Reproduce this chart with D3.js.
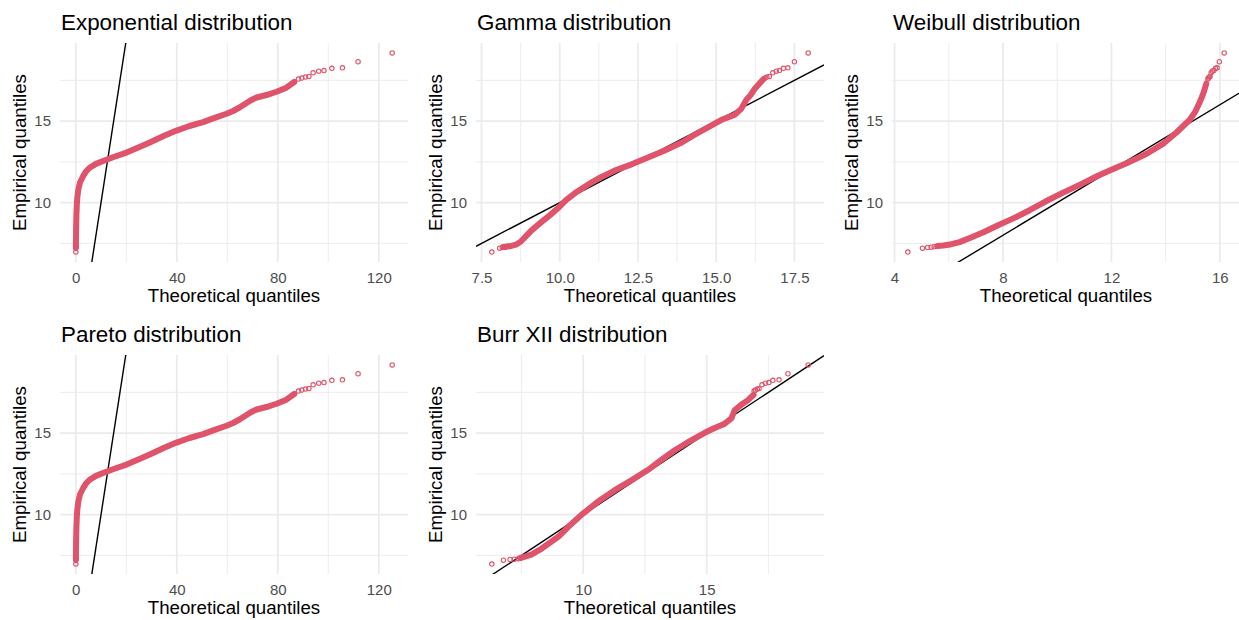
<!DOCTYPE html>
<html>
<head>
<meta charset="utf-8">
<script src="https://cdn.jsdelivr.net/npm/d3@7"></script>
<style>
  body { margin: 0; background: #fff; }
  svg { display: block; font-family: "Liberation Sans", Arial, sans-serif; }
  .tick text { fill: #4d4d4d; font-size: 15px; }
</style>
</head>
<body>
<svg width="1239" height="620"></svg>
<script>
const titles = ["Exponential distribution", "Gamma distribution", "Weibull distribution",
  "Pareto distribution", "Burr XII distribution"];

// empirical quantiles of the isolated points in both tails (same sample in every panel)
const lowEmp = [6.97, 7.21, 7.25, 7.27, 7.30, 7.33];
const highEmp = [17.58, 17.64, 17.70, 17.74, 17.96, 18.06, 18.10, 18.24, 18.27, 18.64, 19.18];

// theoretical quantiles of those tail points, per fitted distribution
const expLow = [0.02, 0.03, 0.04, 0.05, 0.06, 0.07];
const expHigh = [88.2, 89.5, 91.0, 92.3, 94.0, 96.2, 98.3, 101.4, 105.6, 111.8, 125.3];
const gammaLow = [7.83, 8.08, 8.16, 8.22, 8.28, 8.33];
const gammaHigh = [16.52, 16.56, 16.62, 16.70, 16.81, 16.92, 17.02, 17.15, 17.29, 17.50, 17.94];
const weibullLow = [4.49, 5.03, 5.22, 5.35, 5.46, 5.56];
const weibullHigh = [15.56, 15.58, 15.61, 15.64, 15.68, 15.72, 15.78, 15.84, 15.90, 15.98, 16.16];
const burrLow = [6.30, 6.77, 7.04, 7.21, 7.37, 7.45];
const burrHigh = [16.92, 16.98, 17.05, 17.12, 17.24, 17.38, 17.52, 17.68, 17.93, 18.29, 19.11];

// the dense run of points in between, read along its centre (theoretical, empirical)
const expBandX = [0.05, 0.1, 0.15, 0.25, 0.4, 0.6, 1.0, 1.7, 2.9, 4.0, 5.5, 8.0, 10.8, 15.0, 20.1,
  25.0, 29.3, 35.0, 39.9, 45.0, 50.4, 55.0, 59.7, 62.3, 65.0, 69.0, 71.6, 75.5, 79.5, 83.4, 86.5];
const expBandY = [7.3, 7.9, 8.5, 9.2, 9.8, 10.3, 10.8, 11.25, 11.62, 11.9, 12.14, 12.38, 12.55, 12.8, 13.07,
  13.4, 13.69, 14.1, 14.42, 14.7, 14.94, 15.2, 15.45, 15.62, 15.85, 16.25, 16.45, 16.6, 16.8, 17.05, 17.4];
const gammaBandX = [8.2, 8.4, 8.6, 8.75, 8.9, 9.1, 9.42, 9.7, 9.94, 10.2, 10.5, 10.9, 11.3, 11.8, 12.3,
  12.8, 13.3, 13.9, 14.3, 14.75, 15.2, 15.6, 15.8, 15.96, 16.1, 16.22, 16.38, 16.5];
const gammaBandY = [7.28, 7.32, 7.42, 7.6, 7.9, 8.3, 8.82, 9.25, 9.65, 10.15, 10.6, 11.1, 11.55, 12.0, 12.35,
  12.76, 13.15, 13.69, 14.15, 14.63, 15.1, 15.4, 15.75, 16.3, 16.6, 16.95, 17.3, 17.55];
const weibullBandX = [5.6, 5.8, 6.1, 6.4, 6.8, 7.3, 7.8, 8.4, 9.0, 9.6, 10.2, 10.9, 11.5, 12.0, 12.6,
  13.3, 13.9, 14.4, 14.9, 15.1, 15.27, 15.4, 15.5];
const weibullBandY = [7.34, 7.37, 7.45, 7.58, 7.85, 8.2, 8.6, 9.05, 9.55, 10.1, 10.6, 11.15, 11.65, 12.02, 12.45,
  13.0, 13.6, 14.3, 15.1, 15.6, 16.2, 16.75, 17.3];
const burrBandX = [7.45, 7.64, 7.9, 8.32, 8.99, 9.5, 9.94, 10.6, 11.28, 12.0, 12.63, 13.2, 13.71, 14.3, 14.92,
  15.3, 15.73, 16.0, 16.13, 16.47, 16.67, 16.9];
const burrBandY = [7.34, 7.42, 7.55, 7.92, 8.64, 9.4, 10.0, 10.8, 11.5, 12.15, 12.75, 13.4, 13.95, 14.5, 15.02,
  15.3, 15.58, 15.9, 16.4, 16.82, 17.02, 17.35];

// tick labels
const yTicks = [10, 15];
const expTicks = [0, 40, 80, 120];
const gammaTicks = [7.5, 10, 12.5, 15, 17.5];
const weibullTicks = [4, 8, 12, 16];
const burrTicks = [10, 15];

// the Pareto panel reads exactly like the exponential one
const panels = [
  { title: titles[0], col: 0, row: 0, low: expLow, high: expHigh, bx: expBandX, by: expBandY, ticks: expTicks, fmt: d3.format("d") },
  { title: titles[1], col: 1, row: 0, low: gammaLow, high: gammaHigh, bx: gammaBandX, by: gammaBandY, ticks: gammaTicks, fmt: d3.format(".1f") },
  { title: titles[2], col: 2, row: 0, low: weibullLow, high: weibullHigh, bx: weibullBandX, by: weibullBandY, ticks: weibullTicks, fmt: d3.format("d") },
  { title: titles[3], col: 0, row: 1, low: expLow, high: expHigh, bx: expBandX, by: expBandY, ticks: expTicks, fmt: d3.format("d") },
  { title: titles[4], col: 1, row: 1, low: burrLow, high: burrHigh, bx: burrBandX, by: burrBandY, ticks: burrTicks, fmt: d3.format("d") },
];

const colLeft = [60, 476, 892];
const rowTop = [43, 355];
const pw = 348, ph = 219;
const pointColor = "#DF536B";

const svg = d3.select("svg");

function expand(vals) {
  const [lo, hi] = d3.extent(vals);
  const pad = (hi - lo) * 0.05;
  return [lo - pad, hi + pad];
}

// ggplot style minor breaks: halfway between majors, one step past each end if it fits
function minorBreaks(major, domain) {
  const step = major[1] - major[0];
  const out = [];
  for (let v = major[0] - step / 2; v <= domain[1]; v += step) {
    if (v >= domain[0]) out.push(v);
  }
  return out;
}

const yDomain = expand([...lowEmp, ...highEmp, ...expBandY]);

panels.forEach((p, i) => {
  const x0 = colLeft[p.col], y0 = rowTop[p.row];
  const g = svg.append("g").attr("transform", `translate(${x0},${y0})`);

  const x = d3.scaleLinear().domain(expand([...p.low, ...p.high, ...p.bx])).range([0, pw]);
  const y = d3.scaleLinear().domain(yDomain).range([ph, 0]);

  g.append("clipPath").attr("id", "clip" + i)
    .append("rect").attr("width", pw).attr("height", ph);

  // grid
  const grid = g.append("g").attr("stroke", "#ebebeb");
  grid.selectAll(".xminor").data(minorBreaks(p.ticks, x.domain())).enter().append("line")
    .attr("x1", (d) => x(d)).attr("x2", (d) => x(d)).attr("y1", 0).attr("y2", ph).attr("stroke-width", 0.9);
  grid.selectAll(".yminor").data(minorBreaks(yTicks, y.domain())).enter().append("line")
    .attr("y1", (d) => y(d)).attr("y2", (d) => y(d)).attr("x1", 0).attr("x2", pw).attr("stroke-width", 0.9);
  grid.selectAll(".xmajor").data(p.ticks).enter().append("line")
    .attr("x1", (d) => x(d)).attr("x2", (d) => x(d)).attr("y1", 0).attr("y2", ph).attr("stroke-width", 1.8);
  grid.selectAll(".ymajor").data(yTicks).enter().append("line")
    .attr("y1", (d) => y(d)).attr("y2", (d) => y(d)).attr("x1", 0).attr("x2", pw).attr("stroke-width", 1.8);

  // axes
  const xAxis = g.append("g").attr("transform", `translate(0,${ph})`)
    .call(d3.axisBottom(x).tickValues(p.ticks).tickFormat(p.fmt).tickSize(0).tickPadding(10));
  const yAxis = g.append("g")
    .call(d3.axisLeft(y).tickValues(yTicks).tickSize(0).tickPadding(9));
  [xAxis, yAxis].forEach((a) => {
    a.select(".domain").remove();
    a.selectAll("text").attr("font-family", null).attr("font-size", null);
  });
  xAxis.attr("font-size", null).attr("font-family", null);
  yAxis.attr("font-size", null).attr("font-family", null);

  const plot = g.append("g").attr("clip-path", `url(#clip${i})`);

  // reference line y = x
  plot.append("line")
    .attr("x1", x(x.domain()[0])).attr("y1", y(x.domain()[0]))
    .attr("x2", x(x.domain()[1])).attr("y2", y(x.domain()[1]))
    .attr("stroke", "#000").attr("stroke-width", 1.4);

  // dense part of the cloud
  const band = p.bx.map((v, k) => [v, p.by[k]]);
  plot.append("path")
    .datum(band)
    .attr("d", d3.line().x((d) => x(d[0])).y((d) => y(d[1])))
    .attr("fill", "none").attr("stroke", pointColor)
    .attr("stroke-width", 6).attr("stroke-linecap", "round").attr("stroke-linejoin", "round");

  // isolated points
  const pts = p.low.map((v, k) => [v, lowEmp[k]]).concat(p.high.map((v, k) => [v, highEmp[k]]));
  plot.selectAll("circle").data(pts).enter().append("circle")
    .attr("cx", (d) => x(d[0])).attr("cy", (d) => y(d[1])).attr("r", 2.2)
    .attr("fill", "none").attr("stroke", pointColor).attr("stroke-width", 1.1);

  // labels
  g.append("text").attr("x", 1).attr("y", -13)
    .attr("font-size", 22.4).attr("fill", "#000").text(p.title);
  g.append("text").attr("x", pw / 2).attr("y", ph + 39.5).attr("text-anchor", "middle")
    .attr("font-size", 18.7).attr("fill", "#000").text("Theoretical quantiles");
  g.append("text").attr("transform", `translate(-34,${ph / 2}) rotate(-90)`).attr("text-anchor", "middle")
    .attr("font-size", 18.7).attr("fill", "#000").text("Empirical quantiles");
});
</script>
</body>
</html>
